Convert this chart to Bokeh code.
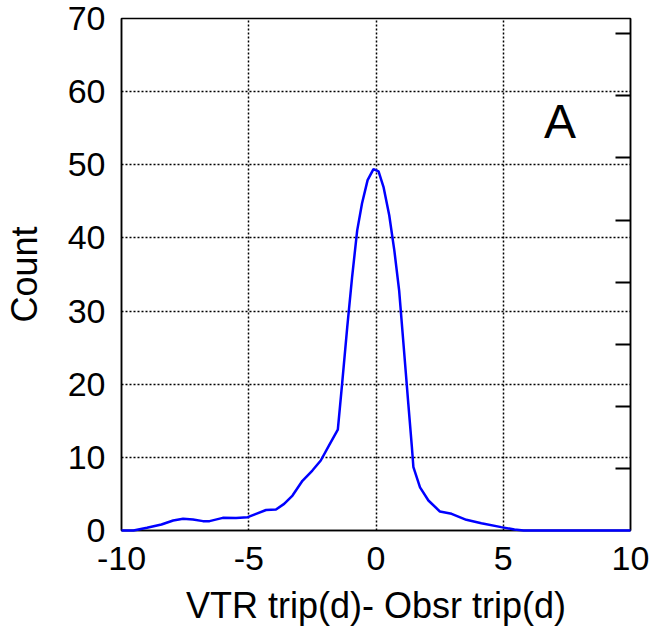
from bokeh.plotting import figure
from bokeh.models import Range1d, LinearAxis, FixedTicker, ColumnDataSource
from bokeh.core.properties import value
from bokeh.embed import file_html
from bokeh.resources import INLINE

# Data
diff_days = [-10.0, -9.53, -9.0, -8.43, -7.97, -7.58, -7.19, -6.8, -6.54, -6.02, -5.5,
             -5.04, -4.71, -4.32, -3.93, -3.61, -3.28, -2.89, -2.5, -2.17, -1.85, -1.5,
             -1.33, -1.13, -0.94, -0.74, -0.55, -0.33, -0.1, 0.1, 0.3, 0.52, 0.72, 0.91,
             1.08, 1.27, 1.41, 1.47, 1.73, 2.06, 2.51, 2.97, 3.55, 4.14, 4.92, 5.44,
             5.8, 7.0, 8.0, 9.0, 10.0]
counts = [0.0, 0.0, 0.37, 0.82, 1.37, 1.6, 1.5, 1.28, 1.28, 1.73, 1.7,
          1.82, 2.28, 2.8, 2.87, 3.64, 4.78, 6.8, 8.2, 9.57, 11.6, 13.8,
          20.1, 27.8, 34.6, 41.0, 44.7, 47.9, 49.4, 49.1, 46.9, 43.1, 38.3, 32.8,
          25.5, 17.3, 11.4, 8.65, 5.9, 4.1, 2.6, 2.28, 1.46, 1.0, 0.46, 0.14,
          0.0, 0.0, 0.0, 0.0, 0.0]
x_ticks = [-10, -5, 0, 5, 10]
x_tick_labels = ["-10", "-5", "0", "5", "10"]
y_ticks = [0, 10, 20, 30, 40, 50, 60, 70]
right_ticks = [1, 2, 3, 4, 5, 6, 7, 8]
panel_label = "A"
x_label = "VTR trip(d)- Obsr trip(d)"
y_label = "Count"

FONT = "Liberation Sans"

p = figure(width=652, height=629, output_backend="svg", toolbar_location=None,
           x_range=Range1d(-10, 10), y_range=Range1d(0, 70),
           min_border_left=118, min_border_right=22, min_border_top=18,
           min_border_bottom=99)
p.background_fill_color = "white"
p.border_fill_color = "white"
p.outline_line_color = "black"
p.outline_line_width = 1.5

# grid
for g in (p.xgrid, p.ygrid):
    g.grid_line_color = "black"
    g.grid_line_dash = "2 2"
    g.grid_line_width = 1.5
p.xgrid.ticker = FixedTicker(ticks=[-5, 0, 5])
p.ygrid.ticker = FixedTicker(ticks=[10, 20, 30, 40, 50, 60])

# axes
p.xaxis.ticker = FixedTicker(ticks=x_ticks)
p.xaxis.major_label_overrides = {t: s for t, s in zip(x_ticks, x_tick_labels)}
p.yaxis.ticker = FixedTicker(ticks=y_ticks)
for ax in (p.xaxis[0], p.yaxis[0]):
    ax.major_tick_line_color = None
    ax.minor_tick_line_color = None
    ax.axis_line_color = "black"
    ax.axis_line_width = 1.5
    ax.major_label_text_font = FONT
    ax.major_label_text_font_size = "34px"
    ax.major_label_text_color = "black"
    ax.axis_label_text_font = FONT
    ax.axis_label_text_font_size = "36px"
    ax.axis_label_text_font_style = "normal"
    ax.axis_label_text_color = "black"
p.xaxis.axis_label = x_label
p.yaxis.axis_label = y_label
p.xaxis.major_label_standoff = 10
p.xaxis.axis_label_standoff = 12
p.yaxis.major_label_standoff = 10
p.yaxis.axis_label_standoff = 20

# right axis with inward ticks (second scale, unlabeled)
p.extra_y_ranges = {"right": Range1d(0, 512 / 62.1)}
ra = LinearAxis(y_range_name="right", ticker=FixedTicker(ticks=right_ticks))
ra.major_tick_in = 15
ra.major_tick_out = 0
ra.major_tick_line_color = "black"
ra.major_tick_line_width = 2
ra.minor_tick_line_color = None
ra.major_label_text_font_size = "0px"
ra.major_label_text_color = None
ra.axis_line_color = "black"
ra.axis_line_width = 1.5
p.add_layout(ra, "right")

src = ColumnDataSource(data=dict(x=diff_days, y=counts))
p.line("x", "y", source=src, line_color="#0000FF", line_width=2.5, level="overlay")

p.text(x=[6.6], y=[55.9], text=[panel_label], text_font=value(FONT),
       text_font_size="48px", text_color="black", text_align="left",
       text_baseline="alphabetic")

open("out.html", "w").write(file_html(p, INLINE))
